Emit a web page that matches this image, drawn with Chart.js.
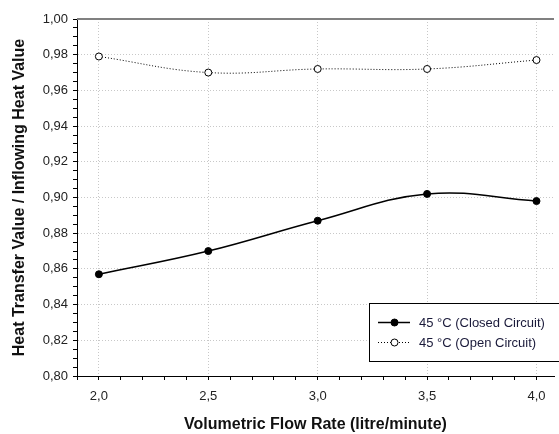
<!DOCTYPE html>
<html>
<head>
<meta charset="utf-8">
<script src="https://cdn.jsdelivr.net/npm/chart.js@4/dist/chart.umd.min.js"></script>
<style>
html,body{margin:0;padding:0;background:#fff;}
#wrap{width:559px;height:434px;position:relative;}
</style>
</head>
<body>
<div id="wrap"><canvas id="c" width="559" height="434"></canvas></div>
<script>
const flowRates = [2.0, 2.5, 3.0, 3.5, 4.0];
const closedCircuit = [0.857, 0.870, 0.887, 0.902, 0.898];
const openCircuit = [0.979, 0.970, 0.972, 0.972, 0.977];
const seriesLabels = ['45 °C (Closed Circuit)', '45 °C (Open Circuit)'];
const xTitle = 'Volumetric Flow Rate (litre/minute)';
const yTitle = 'Heat Transfer Value / Inflowing Heat Value';
const yMajorStep = 0.02, yMinorStep = 0.005;
const xMajorStep = 0.5, xMinorStep = 0.1;

const FONT = "'Liberation Sans', Arial, sans-serif";
function isMajor(v, step){ const r = v/step; return Math.abs(r - Math.round(r)) < 1e-4; }

const legendPlugin = {
  id: 'boxLegend',
  afterDraw(chart){
    const ctx = chart.ctx;
    const ca = chart.chartArea;
    ctx.save();
    ctx.strokeStyle = '#808080';
    ctx.lineWidth = 2;
    ctx.beginPath();
    ctx.moveTo(ca.left, ca.top);
    ctx.lineTo(ca.right, ca.top);
    ctx.stroke();
    const bx = 369.5, by = 303.5, bw = 200, bh = 58;
    ctx.fillStyle = '#fff';
    ctx.fillRect(bx, by, bw, bh);
    ctx.strokeStyle = '#000';
    ctx.lineWidth = 1;
    ctx.setLineDash([]);
    ctx.strokeRect(bx, by, bw, bh);
    chart.data.datasets.forEach((ds, i) => {
      const y = 322 + i*20;
      ctx.save();
      ctx.strokeStyle = '#000';
      ctx.lineWidth = ds.borderWidth;
      ctx.setLineDash(ds.borderDash || []);
      ctx.beginPath();
      ctx.moveTo(378, y + 0.5);
      ctx.lineTo(410, y + 0.5);
      ctx.stroke();
      ctx.setLineDash([]);
      ctx.beginPath();
      ctx.arc(394.5, y + 0.5, ds.pointRadius, 0, Math.PI*2);
      ctx.fillStyle = ds.pointBackgroundColor;
      ctx.fill();
      ctx.lineWidth = 1;
      ctx.strokeStyle = '#000';
      ctx.stroke();
      ctx.restore();
      ctx.fillStyle = '#1a1a3a';
      ctx.font = '13px ' + FONT;
      ctx.textBaseline = 'middle';
      ctx.textAlign = 'left';
      ctx.fillText(ds.label, 419, y + 1);
    });
    ctx.restore();
  }
};

new Chart(document.getElementById('c'), {
  type: 'line',
  data: {
    datasets: [
      {
        label: seriesLabels[0],
        data: flowRates.map((x, i) => ({x, y: closedCircuit[i]})),
        borderColor: '#000',
        borderWidth: 1.5,
        pointRadius: 3.5,
        pointBackgroundColor: '#000',
        pointBorderColor: '#000',
        pointBorderWidth: 1,
        tension: 0.4,
        fill: false
      },
      {
        label: seriesLabels[1],
        data: flowRates.map((x, i) => ({x, y: openCircuit[i]})),
        borderColor: '#000',
        borderWidth: 1,
        borderDash: [1, 2],
        pointRadius: 3.5,
        pointBackgroundColor: '#fff',
        pointBorderColor: '#000',
        pointBorderWidth: 1,
        tension: 0.4,
        fill: false
      }
    ]
  },
  options: {
    responsive: false,
    animation: false,
    devicePixelRatio: 1,
    layout: { padding: { top: 19, right: 0, left: 0, bottom: 0 } },
    plugins: { legend: { display: false }, tooltip: { enabled: false } },
    scales: {
      x: {
        type: 'linear',
        min: 1.9,
        max: 4.08,
        afterFit(scale){ scale.height = 58; },
        ticks: {
          stepSize: xMinorStep,
          includeBounds: false,
          autoSkip: false,
          maxRotation: 0,
          padding: 9,
          color: '#222',
          font: { family: FONT, size: 13 },
          callback: (v) => isMajor(v, xMajorStep) ? v.toFixed(1).replace('.', ',') : ''
        },
        grid: {
          color: (c) => (c.tick && isMajor(c.tick.value, xMajorStep)) ? '#c8c8c8' : 'rgba(0,0,0,0)',
          tickColor: '#000',
          tickLength: 4,
          lineWidth: 1
        },
        border: { display: true, color: '#000', width: 1, dash: [1, 2] },
        title: {
          display: true,
          text: xTitle,
          color: '#111',
          font: { family: FONT, size: 16, weight: 'bold' },
          padding: { top: 0, bottom: 0 }
        }
      },
      y: {
        type: 'linear',
        min: 0.8,
        max: 1.0,
        afterFit(scale){ scale.width = 77; },
        ticks: {
          stepSize: yMinorStep,
          autoSkip: false,
          padding: 5,
          color: '#222',
          font: { family: FONT, size: 13 },
          callback: (v) => isMajor(v, yMajorStep) ? v.toFixed(2).replace('.', ',') : ''
        },
        grid: {
          color: (c) => (c.tick && isMajor(c.tick.value, yMajorStep) && c.tick.value < 0.999) ? '#c8c8c8' : 'rgba(0,0,0,0)',
          tickColor: '#000',
          tickLength: 4,
          lineWidth: 1
        },
        border: { display: true, color: '#000', width: 1, dash: [1, 2] },
        title: {
          display: true,
          text: yTitle,
          color: '#111',
          font: { family: FONT, size: 16, weight: 'bold' },
          padding: { top: 10, bottom: 0 }
        }
      }
    }
  },
  plugins: [legendPlugin]
});
</script>
</body>
</html>
